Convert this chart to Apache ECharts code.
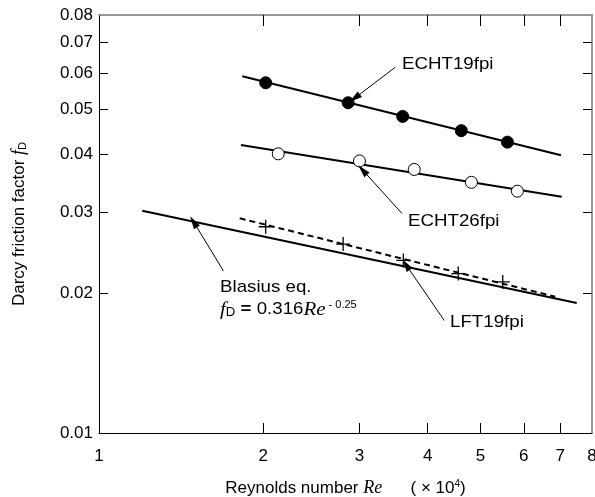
<!DOCTYPE html>
<html>
<head>
<meta charset="utf-8">
<script src="https://cdn.jsdelivr.net/npm/echarts@6/dist/echarts.min.js"></script>
<style>
  html, body { margin: 0; padding: 0; background: #fff; }
  #chart { width: 595px; height: 497px; }
</style>
</head>
<body>
<div id="chart"></div>
<script>
// Reynolds number (x 10^4) and Darcy friction factor
const xTickValues = [1, 2, 3, 4, 5, 6, 7, 8];
const yTickValues = [0.01, 0.02, 0.03, 0.04, 0.05, 0.06, 0.07, 0.08];

const echt19Re = [2.02, 2.86, 3.60, 4.61, 5.60];
const echt19F = [0.0571, 0.0517, 0.0483, 0.0450, 0.0425];
const echt19FitRe = [1.83, 7.02];
const echt19FitF = [0.0590, 0.0398];

const echt26Re = [2.13, 3.00, 3.78, 4.81, 5.84];
const echt26F = [0.0401, 0.0387, 0.0371, 0.0348, 0.0333];
const echt26FitRe = [1.82, 7.04];
const echt26FitF = [0.0419, 0.0324];

const lft19Re = [2.02, 2.80, 3.61, 4.55, 5.49];
const lft19F = [0.0279, 0.0256, 0.0236, 0.0221, 0.0212];
const lft19FitRe = [1.81, 6.85];
const lft19FitF = [0.0291, 0.0197];

const blasiusRe = [1.2, 7.5];
const blasiusF = [0.0302, 0.0191];

// annotation arrows: [start, tip] in data coords
const arrows = [
  [[3.49, 0.0617], [2.94, 0.0529]],
  [[3.59, 0.0298], [3.04, 0.0370]],
  [[1.69, 0.0224], [1.49, 0.0286]],
  [[4.29, 0.0175], [3.65, 0.0231]]
];

const zip = (xs, ys) => xs.map((x, i) => [x, ys[i]]);

const FONT = '"Liberation Sans", Arial, sans-serif';
const SERIF = '"Liberation Serif", "Times New Roman", serif';

let chart = echarts.init(document.getElementById("chart"));

const innerTicks = (len) => ({ show: true, inside: true, length: len, lineStyle: { color: "#000", width: 1 } });

// annotation text helper
const note = (text, left, top) => ({
  type: "text", left: left, top: top, scaleX: 1.1,
  style: { text: text, font: "17px " + FONT, fill: "#000" }
});

let option = {
  animation: false,
  backgroundColor: "#fff",
  textStyle: { fontFamily: FONT },
  grid: { left: 99, right: 3, top: 15, bottom: 64, outerBoundsMode: "none" },
  xAxis: [
    {
      type: "log", logBase: 10, min: 1, max: 8, position: "bottom",
      axisLine: { lineStyle: { color: "#000", width: 1 } },
      axisTick: Object.assign(innerTicks(10), { customValues: xTickValues.slice(1, -1) }),
      axisLabel: { customValues: xTickValues, color: "#000", fontSize: 17, margin: 15, fontFamily: FONT,
        formatter: (v) => String(Math.round(v)) },
      splitLine: { show: false },
      minorTick: { show: false },
      name: "Reynolds number {it|Re}      ( × 10{sup|4})",
      nameLocation: "middle", nameGap: 46,
      nameTextStyle: {
        color: "#000", fontSize: 17, fontFamily: FONT,
        rich: {
          it: { fontFamily: SERIF, fontStyle: "italic", fontSize: 18, color: "#000" },
          sup: { fontSize: 10, verticalAlign: "top", padding: [0, 0, 9, 0], color: "#000" }
        }
      }
    },
    {
      type: "log", logBase: 10, min: 1, max: 8, position: "top",
      axisLine: { lineStyle: { color: "#777", width: 1.5 } },
      axisTick: Object.assign(innerTicks(11), { customValues: xTickValues.slice(1, -1) }),
      axisLabel: { show: false },
      splitLine: { show: false }
    }
  ],
  yAxis: [
    {
      type: "log", logBase: 10, min: 0.01, max: 0.08, position: "left",
      axisLine: { show: true, lineStyle: { color: "#000", width: 1 } },
      axisTick: Object.assign(innerTicks(9), { customValues: yTickValues.slice(1, -1) }),
      axisLabel: { customValues: yTickValues, color: "#000", fontSize: 17, margin: 6, fontFamily: FONT,
        formatter: (v) => v.toFixed(2) },
      splitLine: { show: false },
      name: "Darcy friction factor {it|f}{sub|D}",
      nameLocation: "middle", nameGap: 71, nameRotate: 90,
      nameTextStyle: {
        color: "#000", fontSize: 17, fontFamily: FONT,
        rich: {
          it: { fontFamily: SERIF, fontStyle: "italic", fontSize: 18, color: "#000" },
          sub: { fontSize: 11, verticalAlign: "bottom", padding: [7, 0, 0, 0], color: "#000" }
        }
      }
    },
    {
      type: "log", logBase: 10, min: 0.01, max: 0.08, position: "right",
      axisLine: { show: true, lineStyle: { color: "#777", width: 1.5 } },
      axisTick: Object.assign(innerTicks(9), { customValues: yTickValues.slice(1, -1) }),
      axisLabel: { show: false },
      splitLine: { show: false }
    }
  ],
  series: [
    {
      name: "Blasius", type: "line", data: zip(blasiusRe, blasiusF),
      showSymbol: false, lineStyle: { color: "#000", width: 2 }, z: 2,
      markLine: {
        silent: true, animation: false,
        symbol: ["none", "triangle"], symbolSize: [7, 13],
        label: { show: false },
        lineStyle: { color: "#000", width: 1, type: "solid", opacity: 1 },
        emphasis: { disabled: true },
        data: arrows.map(a => [{ coord: a[0] }, { coord: a[1] }])
      }
    },
    {
      name: "LFT19fpi fit", type: "line", data: zip(lft19FitRe, lft19FitF),
      showSymbol: false, lineStyle: { color: "#000", width: 2, type: [6, 4] }, z: 2
    },
    {
      name: "LFT19fpi", type: "scatter", data: zip(lft19Re, lft19F),
      symbol: "path://M0,6 L12,6 M6,0 L6,12", symbolSize: 14,
      itemStyle: { color: "none", borderColor: "#000", borderWidth: 1.3, opacity: 1 }, z: 4
    },
    {
      name: "ECHT26fpi fit", type: "line", data: zip(echt26FitRe, echt26FitF),
      showSymbol: false, lineStyle: { color: "#000", width: 2 }, z: 2
    },
    {
      name: "ECHT26fpi", type: "scatter", data: zip(echt26Re, echt26F),
      symbol: "circle", symbolSize: 12,
      itemStyle: { color: "#fff", borderColor: "#000", borderWidth: 1, opacity: 1 }, z: 4
    },
    {
      name: "ECHT19fpi fit", type: "line", data: zip(echt19FitRe, echt19FitF),
      showSymbol: false, lineStyle: { color: "#000", width: 2 }, z: 2
    },
    {
      name: "ECHT19fpi", type: "scatter", data: zip(echt19Re, echt19F),
      symbol: "circle", symbolSize: 12,
      itemStyle: { color: "#000", borderColor: "#000", borderWidth: 1, opacity: 1 }, z: 4
    }
  ],
  graphic: [
    note("ECHT19fpi", 402, 56),
    note("ECHT26fpi", 408, 213),
    note("Blasius eq.", 220, 279),
    {
      type: "text", left: 220, top: 300, scaleX: 1.1,
      style: {
        text: "{it|f}{sub|D}{b| = }0.316{it|Re}{sup| - 0.25}",
        font: "17px " + FONT, fill: "#000",
        rich: {
          it: { fontFamily: SERIF, fontStyle: "italic", fontSize: 19, fill: "#000" },
          sub: { fontSize: 12, verticalAlign: "bottom", fill: "#000" },
          b: { fontWeight: "bold", fontSize: 17, fill: "#000" },
          sup: { fontSize: 10, verticalAlign: "top", fill: "#000" }
        }
      }
    },
    note("LFT19fpi", 450, 314)
  ]
};

chart.setOption(option);
</script>
</body>
</html>
